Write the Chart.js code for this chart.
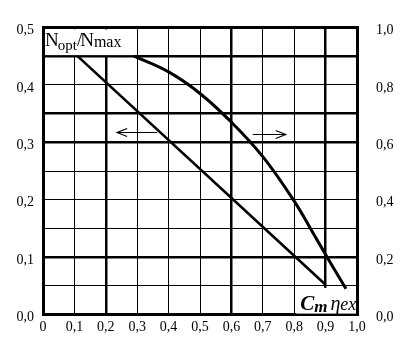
<!DOCTYPE html>
<html>
<head>
<meta charset="utf-8">
<script src="https://cdn.jsdelivr.net/npm/chart.js@4"></script>
<style>
  html, body { margin: 0; padding: 0; background: #fff; }
  #wrap { width: 402px; height: 342px; }
</style>
</head>
<body>
<div id="wrap"><canvas id="chart"></canvas></div>
<script>
// Tick labels (comma decimals as in the original)
const xLabels = ['0', '0,1', '0,2', '0,3', '0,4', '0,5', '0,6', '0,7', '0,8', '0,9', '1,0'];
const leftLabels = ['0,0', '0,1', '0,2', '0,3', '0,4', '0,5'];
const rightLabels = ['0,0', '0,2', '0,4', '0,6', '0,8', '1,0'];

// Straight line, read against the left axis
const lineX = [0.11, 0.90];
const lineY = [0.45, 0.052];

// Curve, read against the right axis
const curveX = [0.29, 0.40, 0.50, 0.60, 0.70, 0.80, 0.86, 0.92, 0.965];
const curveY = [0.90, 0.845, 0.77, 0.67, 0.55, 0.395, 0.284, 0.172, 0.09];

// Arrows (x from, x to, y on left axis)
const arrowFromX = [0.364, 0.668];
const arrowToX = [0.236, 0.773];
const arrowY = [0.318, 0.3145];

// Gridlines drawn heavier
const thickX = [20, 60, 90];
const thickY = [45, 35, 30, 10];

const SERIF = '"Liberation Serif", "DejaVu Serif", serif';

// White boxes holding the two axis captions (data coordinates)
const boxes = [
  { x0: 0, x1: 0.3, y0: 0.45, y1: 0.5 },
  { x0: 0.8, x1: 1.0, y0: 0, y1: 0.05 }
];

// Draws text pieces one after another, each with its own font and baseline shift
function drawRich(ctx, parts, x, y) {
  parts.forEach(function(p) {
    ctx.font = p.font;
    ctx.fillText(p.text, x, y + (p.dy || 0));
    x += ctx.measureText(p.text).width + (p.gap || 0);
  });
}

const captionPlugin = {
  id: 'captions',
  beforeDatasetsDraw(chart) {
    const ctx = chart.ctx;
    const xs = chart.scales.x;
    const ys = chart.scales.yLeft;
    ctx.save();
    ctx.fillStyle = '#fff';
    boxes.forEach(function(b) {
      const l = xs.getPixelForValue(b.x0), r = xs.getPixelForValue(b.x1);
      const t = ys.getPixelForValue(b.y1), bt = ys.getPixelForValue(b.y0);
      ctx.fillRect(l + 2, t + 2, r - l - 3, bt - t - 3);
    });
    ctx.fillStyle = '#000';
    ctx.textBaseline = 'alphabetic';
    ctx.textAlign = 'left';
    // N_opt / N_max
    const b0 = boxes[0];
    drawRich(ctx, [
      { text: 'N', font: '19px ' + SERIF, gap: -1 },
      { text: 'opt', font: '15px ' + SERIF, dy: 4 },
      { text: '/', font: '19px ' + SERIF, gap: -2 },
      { text: 'N', font: '19px ' + SERIF },
      { text: 'max', font: '16px ' + SERIF, dy: 1 }
    ], xs.getPixelForValue(b0.x0) + 2, ys.getPixelForValue(b0.y0) - 10);
    // Cm ηex
    const b1 = boxes[1];
    drawRich(ctx, [
      { text: 'C', font: 'italic bold 21px ' + SERIF },
      { text: 'm', font: 'italic bold 17px ' + SERIF, dy: 2, gap: 3 },
      { text: 'η', font: 'italic 20px ' + SERIF },
      { text: 'ex', font: 'italic 18px ' + SERIF }
    ], xs.getPixelForValue(b1.x0) + 6, ys.getPixelForValue(b1.y0) - 5);
    ctx.restore();
  },
  afterDatasetsDraw(chart) {
    const ctx = chart.ctx;
    const xs = chart.scales.x;
    const ys = chart.scales.yLeft;
    ctx.save();
    ctx.strokeStyle = '#000';
    ctx.lineWidth = 1.2;
    arrowFromX.forEach(function(fx, i) {
      const x1 = xs.getPixelForValue(fx), x2 = xs.getPixelForValue(arrowToX[i]);
      const y = Math.round(ys.getPixelForValue(arrowY[i])) + 0.5;
      const dir = x2 > x1 ? 1 : -1;
      ctx.beginPath();
      ctx.moveTo(x1, y);
      ctx.lineTo(x2, y);
      ctx.moveTo(x2 - dir * 10, y - 4);
      ctx.lineTo(x2, y);
      ctx.lineTo(x2 - dir * 10, y + 4);
      ctx.stroke();
    });
    ctx.restore();
  }
};

function roundTick(v, f) {
  return Math.round(v * f);
}

const ctx = document.getElementById('chart');
new Chart(ctx, {
  type: 'line',
  data: {
    datasets: [
      {
        data: lineX.map((x, i) => ({ x: x, y: lineY[i] })),
        yAxisID: 'yLeft',
        borderColor: '#000',
        borderWidth: 2.6,
        pointRadius: 0,
        tension: 0
      },
      {
        data: curveX.map((x, i) => ({ x: x, y: curveY[i] })),
        yAxisID: 'yRight',
        borderColor: '#000',
        borderWidth: 3,
        pointRadius: 0,
        tension: 0.4
      }
    ]
  },
  options: {
    responsive: true,
    maintainAspectRatio: false,
    animation: false,
    layout: { padding: { top: 9, left: 0, right: 0, bottom: 0 } },
    plugins: { legend: { display: false }, tooltip: { enabled: false } },
    scales: {
      x: {
        type: 'linear',
        min: 0,
        max: 1,
        afterFit(scale) { scale.height = 23; },
        ticks: {
          stepSize: 0.1,
          padding: 4,
          color: '#000',
          font: { family: SERIF, size: 14 },
          maxRotation: 0,
          callback: (v) => xLabels[roundTick(v, 10)]
        },
        grid: {
          drawTicks: false,
          color: '#000',
          lineWidth: (c) => {
            const t = roundTick(c.tick.value, 100);
            if (t === 0 || t === 100) return 3;
            return thickX.includes(t) ? 2.5 : 1;
          }
        },
        border: { display: true, color: '#000', width: 3 }
      },
      yLeft: {
        type: 'linear',
        position: 'left',
        min: 0,
        max: 0.5,
        afterFit(scale) { scale.width = 43; },
        ticks: {
          stepSize: 0.05,
          padding: 9,
          labelOffset: 3,
          color: '#000',
          font: { family: SERIF, size: 14 },
          callback: (v) => {
            const t = roundTick(v, 100);
            return t % 10 === 0 ? leftLabels[t / 10] : '';
          }
        },
        grid: {
          drawTicks: false,
          color: '#000',
          lineWidth: (c) => {
            const t = roundTick(c.tick.value, 100);
            if (t === 0 || t === 50) return 3;
            return thickY.includes(t) ? 2.5 : 1;
          }
        },
        border: { display: true, color: '#000', width: 3 }
      },
      yRight: {
        type: 'linear',
        position: 'right',
        min: 0,
        max: 1,
        afterFit(scale) { scale.width = 45; },
        ticks: {
          stepSize: 0.2,
          padding: 19,
          labelOffset: 3,
          color: '#000',
          font: { family: SERIF, size: 14 },
          callback: (v) => rightLabels[roundTick(v, 5)]
        },
        grid: { display: false, drawTicks: false },
        border: { display: true, color: '#000', width: 3 }
      }
    }
  },
  plugins: [captionPlugin]
});
</script>
</body>
</html>
